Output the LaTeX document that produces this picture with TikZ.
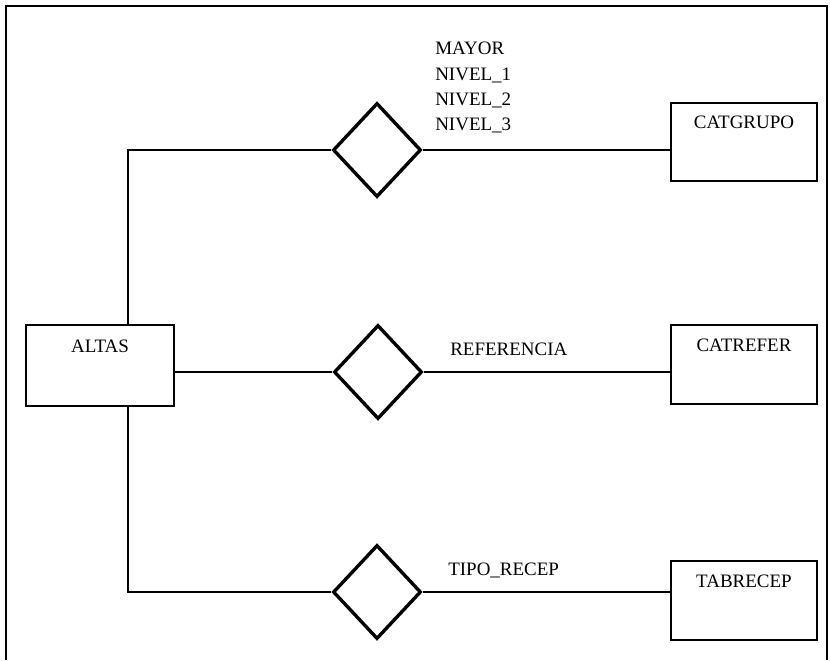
\documentclass[tikz,border=0pt]{standalone}
\usepackage{fontspec}
\setmainfont{Liberation Serif}
\usetikzlibrary{shapes.geometric}

\begin{document}
\begin{tikzpicture}[x=0.025cm,y=-0.025cm,
  font=\fontsize{13.5}{18}\selectfont,
  entity/.style={draw,line width=1.5pt,minimum width=3.65cm,minimum height=1.97cm,
    inner sep=0pt,text height=0.3cm,text depth=0.975cm},
  rel/.style={diamond,draw,line width=2.4pt,minimum width=2.2cm,minimum height=2.35cm,inner sep=0pt},
  link/.style={line width=1.3pt},
  attr/.style={anchor=base west,inner sep=0pt}]
  \useasboundingbox (0,0) rectangle (830,660);
  \draw[line width=0.8pt] (6,660) |- (827,6) -- (827,660);

  % entities
  \node[entity,minimum width=3.7cm,minimum height=2.02cm] (altas) at (100,365.5) {ALTAS};
  \node[entity] (catgrupo) at (744,142) {CATGRUPO};
  \node[entity] (catrefer) at (744,364.5) {CATREFER};
  \node[entity] (tabrecep) at (744,600.5) {TABRECEP};

  % relations
  \node[rel] (grprel) at (377,150) {};
  \node[rel] (refrel) at (378,372) {};
  \node[rel] (recrel) at (377,592) {};
  \coordinate (trunk) at (128,372);

  \draw[link] (altas.north -| trunk) |- (grprel.west);
  \draw[link] (altas.south -| trunk) |- (recrel.west);
  \draw[link] (altas.east |- refrel.west) -- (refrel.west);
  \draw[link] (grprel.east) -- (grprel.east -| catgrupo.west);
  \draw[link] (refrel.east) -- (refrel.east -| catrefer.west);
  \draw[link] (recrel.east) -- (recrel.east -| tabrecep.west);

  % attributes
  \node[attr,anchor=north west,align=left] (grpattr) at (435,42) {MAYOR\\NIVEL\_1\\NIVEL\_2\\NIVEL\_3};
  \node[attr] (refattr) at (450,355) {REFERENCIA};
  \node[attr] (recattr) at (448,575) {TIPO\_RECEP};
\end{tikzpicture}
\end{document}
